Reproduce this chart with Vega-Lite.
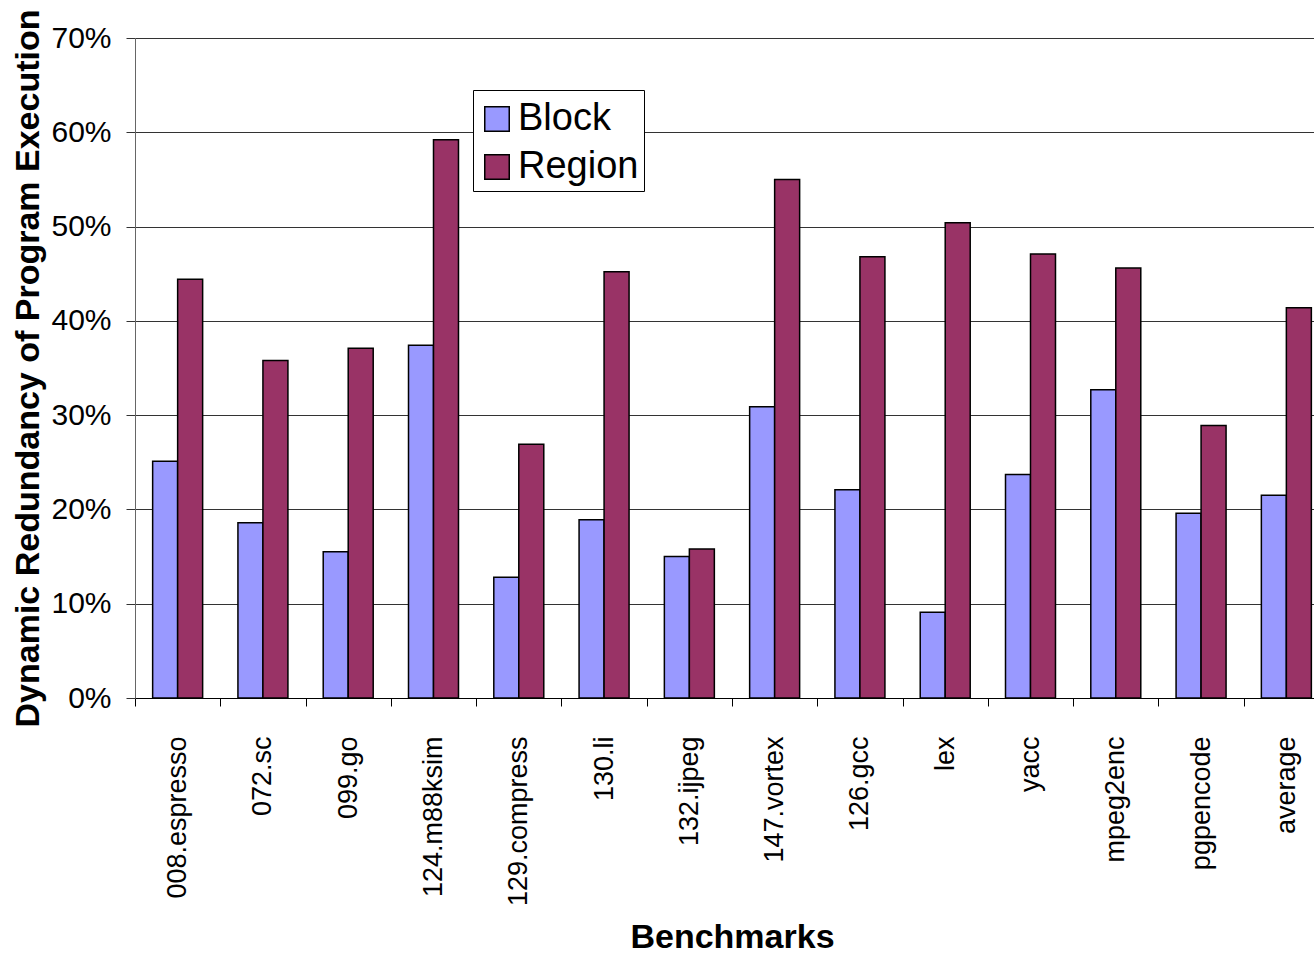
{
  "$schema": "https://vega.github.io/schema/vega-lite/v6.json",
  "autosize": "none",
  "padding": {"left": 135, "top": 38, "right": -15, "bottom": 256},
  "width": 1194,
  "height": 660,
  "background": "white",
  "config": {
    "font": "Liberation Sans",
    "view": {"stroke": null}
  },
  "data": {
    "values": [
      {"benchmark": "008.espresso", "series": "Block", "value": 25.1},
      {"benchmark": "008.espresso", "series": "Region", "value": 44.4},
      {"benchmark": "072.sc", "series": "Block", "value": 18.6},
      {"benchmark": "072.sc", "series": "Region", "value": 35.8},
      {"benchmark": "099.go", "series": "Block", "value": 15.5},
      {"benchmark": "099.go", "series": "Region", "value": 37.1},
      {"benchmark": "124.m88ksim", "series": "Block", "value": 37.4},
      {"benchmark": "124.m88ksim", "series": "Region", "value": 59.2},
      {"benchmark": "129.compress", "series": "Block", "value": 12.8},
      {"benchmark": "129.compress", "series": "Region", "value": 26.9},
      {"benchmark": "130.li", "series": "Block", "value": 18.9},
      {"benchmark": "130.li", "series": "Region", "value": 45.2},
      {"benchmark": "132.ijpeg", "series": "Block", "value": 15.0},
      {"benchmark": "132.ijpeg", "series": "Region", "value": 15.8},
      {"benchmark": "147.vortex", "series": "Block", "value": 30.9},
      {"benchmark": "147.vortex", "series": "Region", "value": 55.0},
      {"benchmark": "126.gcc", "series": "Block", "value": 22.1},
      {"benchmark": "126.gcc", "series": "Region", "value": 46.8},
      {"benchmark": "lex", "series": "Block", "value": 9.1},
      {"benchmark": "lex", "series": "Region", "value": 50.4},
      {"benchmark": "yacc", "series": "Block", "value": 23.7},
      {"benchmark": "yacc", "series": "Region", "value": 47.1},
      {"benchmark": "mpeg2enc", "series": "Block", "value": 32.7},
      {"benchmark": "mpeg2enc", "series": "Region", "value": 45.6},
      {"benchmark": "pgpencode", "series": "Block", "value": 19.6},
      {"benchmark": "pgpencode", "series": "Region", "value": 28.9},
      {"benchmark": "average", "series": "Block", "value": 21.5},
      {"benchmark": "average", "series": "Region", "value": 41.4}
    ]
  },
  "mark": {"type": "bar", "stroke": "black", "strokeWidth": 1.5},
  "encoding": {
    "x": {
      "field": "benchmark",
      "type": "nominal",
      "sort": null,
      "scale": {"paddingInner": 0, "paddingOuter": 0},
      "axis": {
        "title": "Benchmarks",
        "titleFontSize": 34,
        "titleFontWeight": "bold",
        "titleColor": "black",
        "titlePadding": 22,
        "labelAngle": 270,
        "labelFontSize": 27,
        "labelColor": "black",
        "labelPadding": 30,
        "labelAlign": "right",
        "labelBaseline": "middle",
        "tickBand": "extent",
        "tickSize": 8,
        "tickColor": "black",
        "domainColor": "black",
        "labelLimit": 0
      }
    },
    "xOffset": {"field": "series", "type": "nominal", "scale": {"paddingInner": 0, "paddingOuter": 0.706}},
    "y": {
      "field": "value",
      "type": "quantitative",
      "scale": {"domain": [0, 70], "nice": false},
      "axis": {
        "title": "Dynamic Redundancy of Program Execution",
        "titleFontSize": 34,
        "titleFontWeight": "bold",
        "titleColor": "black",
        "titlePadding": 5,
        "values": [0, 10, 20, 30, 40, 50, 60, 70],
        "labelExpr": "datum.value + '%'",
        "labelFontSize": 30,
        "labelColor": "black",
        "labelPadding": 15,
        "tickSize": 9,
        "tickColor": "#333",
        "grid": true,
        "gridColor": "#333",
        "gridWidth": 1,
        "domainColor": "#666"
      }
    },
    "color": {
      "field": "series",
      "type": "nominal",
      "scale": {"domain": ["Block", "Region"], "range": ["#9999FF", "#993366"]},
      "legend": {
        "title": " ",
        "titleFontSize": 1,
        "titlePadding": 4,
        "orient": "none",
        "legendX": 338,
        "legendY": 52,
        "symbolType": "square",
        "symbolSize": 600,
        "symbolStrokeColor": "black",
        "symbolStrokeWidth": 1.5,
        "labelFontSize": 38,
        "labelColor": "black",
        "labelOffset": 2,
        "rowPadding": 10,
        "padding": 5,
        "strokeColor": "black",
        "fillColor": "white"
      }
    }
  }
}
